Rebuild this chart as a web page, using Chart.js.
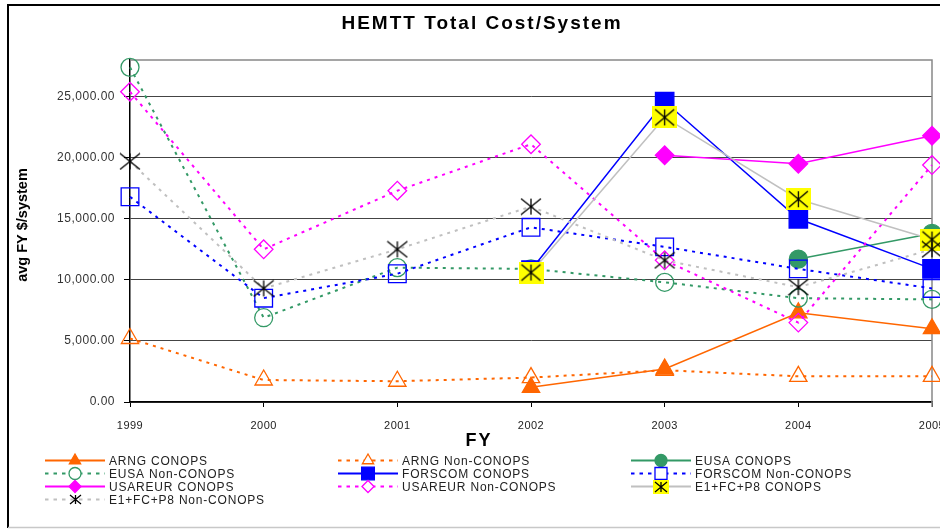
<!DOCTYPE html>
<html>
<head>
<meta charset="utf-8">
<title>HEMTT Total Cost/System</title>
<script src="https://cdn.jsdelivr.net/npm/chart.js@4.4.1/dist/chart.umd.min.js"></script>
<style>
    html, body { margin: 0; padding: 0; background: #fff; }
    #hemtt-wrap { width: 940px; height: 529px; }
</style>
</head>
<body>
<div id="hemtt-wrap"><canvas id="hemtt-cost__canvas" width="940" height="529"></canvas></div>
<script>
// fiscal years and y tick values
var years = ['1999', '2000', '2001', '2002', '2003', '2004', '2005'];
var yTickValues = [0, 5000, 10000, 15000, 20000, 25000];

// avg FY $/system
var arngConops     = [null, null, null, 1200, 2700, 7300, 6000];
var arngNon        = [5200, 1800, 1700, 2000, 2600, 2100, 2100];
var eusaConops     = [null, null, null, null, null, 11700, 13800];
var eusaNon        = [27400, 6900, 11000, 10900, 9800, 8500, 8400];
var forscomConops  = [null, null, null, 10800, 24600, 15000, 10900];
var forscomNon     = [16800, 8500, 10500, 14300, 12700, 10900, 9300];
var usareurConops  = [null, null, null, null, 20200, 19500, 21800];
var usareurNon     = [25400, 12500, 17300, 21100, 11600, 6500, 19400];
var e1Conops       = [null, null, null, 10600, 23300, 16600, 13300];
var e1Non          = [19700, 9300, 12500, 16000, 11600, 9400, 12500];

var FONT = '"Liberation Sans", Arial, sans-serif';

// asterisk marker (X plus vertical bar), optionally on a yellow box
function asterisk(w, h, box) {
    var c = document.createElement('canvas');
    c.width = w; c.height = h;
    var g = c.getContext('2d');
    var ins = 1;
    if (box) {
        g.fillStyle = box;
        g.fillRect(0, 0, w, h);
        ins = Math.round(w * 0.12);
    }
    g.strokeStyle = '#000';
    g.lineWidth = 1.3;
    g.beginPath();
    g.moveTo(ins, ins); g.lineTo(w - ins, h - ins);
    g.moveTo(w - ins, ins); g.lineTo(ins, h - ins);
    g.moveTo(w / 2, ins); g.lineTo(w / 2, h - ins);
    g.stroke();
    return c;
}

var starBig = asterisk(22, 18);
var starSmall = asterisk(13, 11);
var yellowBig = asterisk(25, 22, '#FFFF00');
var yellowSmall = asterisk(16, 14, '#FFFF00');

function series(label, data, color, dotted, style, radius, filled, legendRadius, legendImg) {
    return {
        label: label,
        data: data,
        borderColor: color,
        borderWidth: dotted ? 2 : 1.5,
        borderDash: dotted ? [3, 5] : [],
        backgroundColor: color,
        pointStyle: style,
        pointRadius: radius,
        pointBorderWidth: 1.3,
        pointBorderColor: typeof style === 'string' ? color : 'rgba(0,0,0,0)',
        pointBackgroundColor: filled ? color : 'rgba(0,0,0,0)',
        tension: 0,
        fill: false,
        clip: false,
        legendRadius: legendRadius,
        legendImg: legendImg,
        filled: filled,
        dotted: dotted
    };
}

var datasets = [
    series('ARNG CONOPS', arngConops, '#FF6600', false, 'triangle', 10, true, 6.5),
    series('ARNG Non-CONOPS', arngNon, '#FF6600', true, 'triangle', 10, false, 6.5),
    series('EUSA CONOPS', eusaConops, '#339966', false, 'circle', 9, true, 6),
    series('EUSA Non-CONOPS', eusaNon, '#339966', true, 'circle', 9, false, 6),
    series('FORSCOM CONOPS', forscomConops, '#0000FF', false, 'rect', 13, true, 9),
    series('FORSCOM Non-CONOPS', forscomNon, '#0000FF', true, 'rect', 12.5, false, 8.5),
    series('USAREUR CONOPS', usareurConops, '#FF00FF', false, 'rectRot', 9.3, true, 6),
    series('USAREUR Non-CONOPS', usareurNon, '#FF00FF', true, 'rectRot', 9.3, false, 6),
    series('E1+FC+P8 CONOPS', e1Conops, '#C0C0C0', false, yellowBig, 12, true, 0, yellowSmall),
    series('E1+FC+P8 Non-CONOPS', e1Non, '#C0C0C0', true, starBig, 11, false, 0, starSmall)
];
// later series sit on top, like the original
datasets.forEach(function(ds, i) { ds.order = datasets.length - i; });

function legendMarker(ctx, ds, x, y) {
    if (ds.legendImg) {
        ctx.drawImage(ds.legendImg, Math.round(x - ds.legendImg.width / 2), Math.round(y - ds.legendImg.height / 2));
        return;
    }
    var r = ds.legendRadius;
    ctx.beginPath();
    if (ds.pointStyle === 'triangle') {
        ctx.moveTo(x, y - r);
        ctx.lineTo(x + r * 0.866, y + r * 0.5);
        ctx.lineTo(x - r * 0.866, y + r * 0.5);
        ctx.closePath();
    } else if (ds.pointStyle === 'circle') {
        ctx.arc(x, y, r, 0, Math.PI * 2);
    } else if (ds.pointStyle === 'rect') {
        var s = r * Math.SQRT1_2;
        ctx.rect(x - s, y - s, 2 * s, 2 * s);
    } else {
        ctx.moveTo(x - r, y); ctx.lineTo(x, y - r); ctx.lineTo(x + r, y); ctx.lineTo(x, y + r);
        ctx.closePath();
    }
    ctx.fillStyle = ds.filled ? ds.borderColor : '#fff';
    ctx.fill();
    ctx.strokeStyle = ds.borderColor;
    ctx.lineWidth = 1.3;
    ctx.setLineDash([]);
    ctx.stroke();
}

var decor = {
    id: 'decor',
    beforeDraw: function(chart) {
        var ctx = chart.ctx;
        ctx.save();
        ctx.fillStyle = '#fff';
        ctx.fillRect(0, 0, chart.width, chart.height);
        ctx.strokeStyle = '#000';
        ctx.lineWidth = 2;
        ctx.beginPath();
        ctx.moveTo(8, 528); ctx.lineTo(8, 5); ctx.lineTo(940, 5);
        ctx.stroke();
        ctx.strokeStyle = '#c8c8c8';
        ctx.lineWidth = 1.5;
        ctx.beginPath();
        ctx.moveTo(8, 527.5); ctx.lineTo(940, 527.5);
        ctx.stroke();
        ctx.restore();
        // tick labels in the original are a little spread out
        ctx.letterSpacing = '0.5px';
    },
    beforeDatasetsDraw: function(chart) {
        var ctx = chart.ctx, a = chart.chartArea;
        ctx.letterSpacing = '0px';
        ctx.save();
        ctx.strokeStyle = '#888';
        ctx.lineWidth = 1.5;
        ctx.beginPath();
        ctx.moveTo(a.left, a.top); ctx.lineTo(a.right, a.top); ctx.lineTo(a.right, a.bottom + 5);
        ctx.stroke();
        ctx.restore();
    },
    afterDraw: function(chart) {
        var ctx = chart.ctx;
        ctx.save();
        ctx.fillStyle = '#000';

        // title
        ctx.letterSpacing = '2px';
        ctx.font = 'bold 19px ' + FONT;
        ctx.textAlign = 'center';
        ctx.textBaseline = 'alphabetic';
        ctx.fillText('HEMTT Total Cost/System', 482, 29);

        // x axis title
        ctx.font = 'bold 18px ' + FONT;
        ctx.fillText('FY', 479, 446);

        // y axis title
        ctx.letterSpacing = '0px';
        ctx.save();
        ctx.translate(27, 225);
        ctx.rotate(-Math.PI / 2);
        ctx.font = 'bold 14.5px ' + FONT;
        ctx.fillText('avg FY $/system', 0, 0);
        ctx.restore();

        // legend, 3 columns
        var colX = [45, 338, 631];
        var rowY = [460, 473, 486, 499];
        chart.data.datasets.forEach(function(ds, i) {
            var x0 = colX[i % 3], y = rowY[Math.floor(i / 3)];
            ctx.save();
            ctx.strokeStyle = ds.borderColor;
            ctx.lineWidth = 2;
            ctx.setLineDash(ds.dotted ? [3.5, 5] : []);
            ctx.beginPath();
            ctx.moveTo(x0, y + 0.5); ctx.lineTo(x0 + 60, y + 0.5);
            ctx.stroke();
            legendMarker(ctx, ds, x0 + 30, y + 0.5);
            ctx.restore();
            ctx.letterSpacing = '0.8px';
            ctx.font = '12px ' + FONT;
            ctx.fillStyle = '#222';
            ctx.textAlign = 'left';
            ctx.fillText(ds.label, x0 + 64, y + 4.5);
        });
        ctx.restore();
    }
};

var ctx = document.getElementById('hemtt-cost__canvas').getContext('2d');
window.hemttChart = new Chart(ctx, {
    type: 'line',
    data: { labels: years, datasets: datasets },
    options: {
        responsive: false,
        animation: false,
        devicePixelRatio: 1,
        layout: { autoPadding: false, padding: { top: 60, right: 8, left: 0, bottom: 0 } },
        plugins: {
            legend: { display: false },
            title: { display: false },
            tooltip: { enabled: false }
        },
        scales: {
            x: {
                type: 'category',
                offset: false,
                grid: { display: true, drawOnChartArea: false, tickLength: 5, tickColor: '#000' },
                border: { color: '#000', width: 1.5 },
                ticks: {
                    autoSkip: false, maxRotation: 0, padding: 12,
                    color: '#222', font: { family: FONT, size: 11 }
                },
                afterFit: function(scale) {
                    scale.height = 127;
                    scale.paddingLeft = 0;
                    scale.paddingRight = 0;
                }
            },
            y: {
                min: 0,
                max: 28000,
                grid: { color: '#444', lineWidth: 1, tickLength: 6, tickColor: '#000' },
                border: { color: '#000', width: 1.5 },
                afterBuildTicks: function(scale) {
                    scale.ticks = yTickValues.map(function(v) { return { value: v }; });
                },
                ticks: {
                    padding: 9,
                    color: '#333',
                    font: { family: FONT, size: 12 },
                    callback: function(v) {
                        return Number(v).toLocaleString('en-US', { minimumFractionDigits: 2, maximumFractionDigits: 2 });
                    }
                },
                afterFit: function(scale) {
                    scale.width = 130;
                }
            }
        }
    },
    plugins: [decor]
});
</script>
</body>
</html>
